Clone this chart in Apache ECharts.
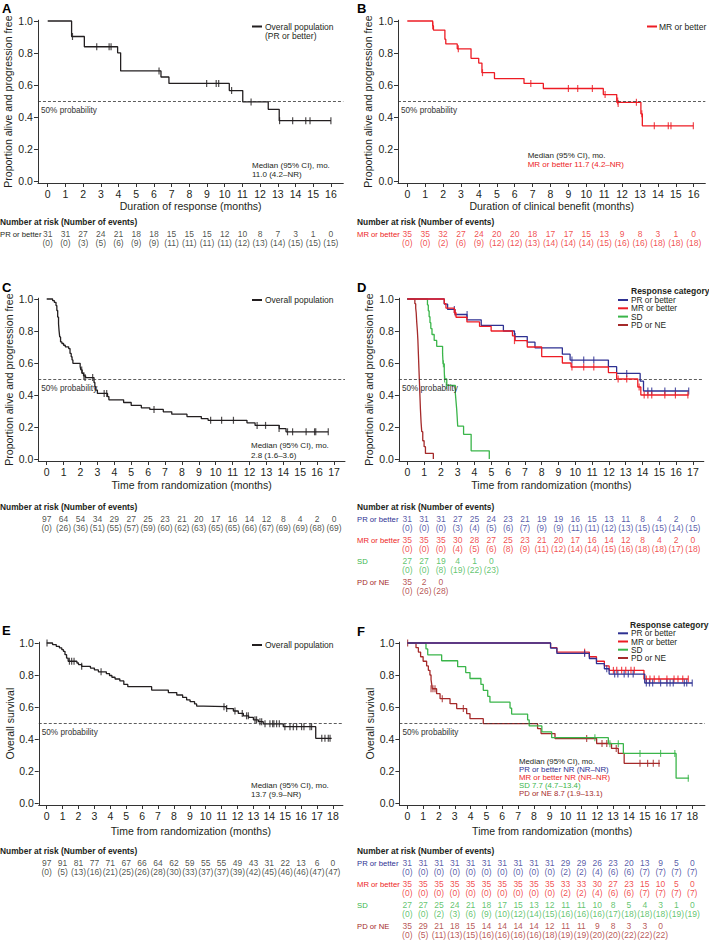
<!DOCTYPE html>
<html><head><meta charset="utf-8">
<script src="https://cdn.jsdelivr.net/npm/echarts@6/dist/echarts.min.js"></script>
<style>html,body{margin:0;padding:0;background:#fff}#c{width:709px;height:944px}</style>
</head><body><div id="c"></div>
<script>
// ---------- tick labels ----------
const xTicks16 = [0,1,2,3,4,5,6,7,8,9,10,11,12,13,14,15,16];
const xTicks17 = [0,1,2,3,4,5,6,7,8,9,10,11,12,13,14,15,16,17];
const xTicks18 = [0,1,2,3,4,5,6,7,8,9,10,11,12,13,14,15,16,17,18];
const yTicks = [0,0.2,0.4,0.6,0.8,1.0];

// ---------- Panel A ----------
const A_curve = [[0,1],[1.35,0.903],[2.07,0.839],[3.95,0.801],[4.12,0.688],[6.4,0.65],[6.85,0.61],[10.26,0.565],[11.02,0.494],[12.46,0.448],[13.08,0.377],[16.0,0.377]];
const A_cens = [[1.4,0.903],[2.77,0.839],[3.47,0.839],[3.58,0.839],[6.29,0.688],[8.98,0.61],[9.52,0.61],[9.66,0.61],[10.39,0.565],[11.49,0.494],[13.1,0.377],[13.84,0.377],[14.58,0.377],[14.82,0.377],[16.0,0.377]];
const A_risk_n = [31,31,27,24,21,18,18,15,15,15,12,10,8,7,3,1,0];
const A_risk_e = [0,0,3,5,6,9,9,11,11,11,11,12,13,14,15,15,15];

// ---------- Panel B ----------
const B_curve = [[0,1],[1.42,0.971],[1.46,0.943],[2.1,0.886],[2.15,0.857],[2.79,0.826],[3.56,0.767],[3.99,0.737],[4.17,0.677],[4.87,0.64],[6.52,0.61],[7.6,0.578],[10.95,0.54],[11.7,0.492],[13.05,0.42],[13.13,0.345],[15.98,0.345]];
const B_cens = [[1.42,0.971],[2.85,0.826],[4.2,0.677],[6.9,0.61],[9.0,0.578],[9.52,0.578],[10.34,0.578],[11.05,0.54],[11.75,0.5],[11.78,0.485],[12.8,0.492],[13.1,0.42],[13.8,0.345],[14.58,0.345],[14.73,0.345],[15.98,0.345]];
const B_risk_n = [35,35,32,27,24,20,20,18,17,17,15,13,9,8,3,1,0];
const B_risk_e = [0,0,2,6,9,12,12,13,14,14,14,15,16,16,18,18,18];

// ---------- Panel C ----------
const C_curve = [[0,1],[0.35,0.99],[0.45,0.979],[0.55,0.959],[0.6,0.928],[0.65,0.887],[0.7,0.845],[0.73,0.804],[0.77,0.763],[0.82,0.732],[0.9,0.722],[1.0,0.711],[1.1,0.701],[1.3,0.69],[1.38,0.66],[1.45,0.639],[1.5,0.619],[1.55,0.598],[1.98,0.577],[2.02,0.557],[2.1,0.536],[2.18,0.52],[2.3,0.509],[2.8,0.478],[2.85,0.452],[2.9,0.431],[3.0,0.41],[3.6,0.39],[3.68,0.37],[4.55,0.353],[5.0,0.335],[5.6,0.32],[6.1,0.31],[6.9,0.295],[7.4,0.28],[8.3,0.265],[9.15,0.252],[9.55,0.242],[11.85,0.226],[12.33,0.21],[13.76,0.19],[14.16,0.17],[16.66,0.17]];
const C_cens = [[2.07,0.557],[2.2,0.52],[2.27,0.509],[2.72,0.509],[3.4,0.41],[3.55,0.41],[6.35,0.31],[9.7,0.242],[10.35,0.242],[11.05,0.242],[12.45,0.21],[12.95,0.21],[13.75,0.19],[14.25,0.17],[14.55,0.17],[15.35,0.17],[15.85,0.17],[15.92,0.17],[16.66,0.17]];
const C_risk_n = [97,64,54,34,29,27,25,23,21,20,17,16,14,12,8,4,2,0];
const C_risk_e = [0,26,36,51,55,57,59,60,62,63,65,65,66,67,69,69,68,69];

// ---------- Panel D ----------
const D_PR_curve = [[0,1],[2.2,0.968],[2.4,0.935],[2.84,0.903],[3.55,0.87],[4.4,0.835],[5.72,0.80],[6.38,0.765],[7.14,0.73],[7.6,0.695],[9.23,0.655],[9.69,0.618],[11.97,0.577],[12.46,0.535],[13.86,0.487],[14.06,0.425],[16.75,0.425]];
const D_PR_cens = [[2.8,0.935],[3.56,0.903],[6.42,0.765],[9.8,0.618],[10.5,0.618],[11.1,0.618],[13.06,0.535],[14.32,0.425],[14.55,0.425],[15.33,0.425],[15.96,0.425],[16.75,0.425]];
const D_MR_curve = [[0,1],[2.2,0.971],[2.3,0.943],[2.8,0.914],[2.9,0.886],[3.55,0.857],[4.3,0.829],[4.99,0.80],[6.26,0.77],[6.4,0.74],[7.14,0.70],[8.0,0.64],[9.23,0.60],[9.75,0.575],[11.97,0.54],[12.46,0.50],[13.72,0.45],[13.9,0.40],[16.75,0.40]];
const D_MR_cens = [[2.85,0.914],[6.38,0.74],[9.8,0.575],[10.5,0.575],[11.1,0.575],[12.55,0.50],[13.06,0.50],[13.8,0.45],[14.1,0.40],[14.32,0.40],[14.55,0.40],[15.33,0.40],[15.96,0.40],[16.7,0.40]];
const D_SD_curve = [[0,1],[1.2,0.963],[1.25,0.926],[1.3,0.889],[1.35,0.852],[1.4,0.815],[1.47,0.778],[1.6,0.741],[1.75,0.704],[2.1,0.66],[2.13,0.595],[2.2,0.55],[2.22,0.50],[2.35,0.46],[2.86,0.41],[2.9,0.36],[2.94,0.31],[2.97,0.26],[3.0,0.205],[3.35,0.154],[3.8,0.051],[4.88,0]];
const D_SD_cens = [[2.15,0.595],[2.22,0.50],[2.32,0.46]];
const D_PD_curve = [[0,1],[0.45,0.971],[0.5,0.943],[0.53,0.914],[0.56,0.857],[0.6,0.8],[0.63,0.743],[0.66,0.657],[0.69,0.571],[0.72,0.486],[0.75,0.4],[0.78,0.314],[0.82,0.229],[0.86,0.171],[0.92,0.114],[1.0,0.077],[1.08,0.035],[1.55,0]];
const D_PD_cens = [];
const D_PR_risk_n = [31,31,31,27,25,24,23,21,19,19,16,15,13,11,8,4,2,0];
const D_PR_risk_e = [0,0,0,3,4,5,6,7,9,9,11,11,12,13,15,15,14,15];
const D_MR_risk_n = [35,35,35,30,28,27,25,23,21,20,17,16,14,12,8,4,2,0];
const D_MR_risk_e = [0,0,0,4,5,6,8,9,11,12,14,14,15,16,18,18,17,18];
const D_SD_risk_n = [27,27,19,4,1,0];
const D_SD_risk_e = [0,0,8,19,22,23];
const D_PD_risk_n = [35,2,0];
const D_PD_risk_e = [0,26,28];

// ---------- Panel E ----------
const E_curve = [[0,1],[0.37,0.99],[0.6,0.979],[0.8,0.969],[0.95,0.958],[1.05,0.948],[1.15,0.927],[1.25,0.906],[1.35,0.886],[1.9,0.875],[2.0,0.865],[2.2,0.854],[2.75,0.843],[3.0,0.832],[3.25,0.82],[3.75,0.809],[3.95,0.797],[4.1,0.786],[4.3,0.775],[4.6,0.763],[4.85,0.741],[5.1,0.727],[6.6,0.706],[7.65,0.69],[8.18,0.675],[8.55,0.66],[8.8,0.644],[9.02,0.633],[9.3,0.619],[9.43,0.606],[9.85,0.602],[11.3,0.59],[11.74,0.575],[12.05,0.56],[12.37,0.545],[12.7,0.535],[13.0,0.52],[13.31,0.508],[13.62,0.495],[14.88,0.477],[16.92,0.404],[17.92,0.404]];
const E_cens = [[0.02,1.0],[1.43,0.886],[1.57,0.886],[1.72,0.886],[2.2,0.854],[3.42,0.82],[11.15,0.602],[11.32,0.59],[11.84,0.575],[12.3,0.56],[12.57,0.545],[12.68,0.545],[13.1,0.52],[13.2,0.52],[13.41,0.508],[13.52,0.508],[13.73,0.495],[14.04,0.495],[14.21,0.495],[14.29,0.495],[14.46,0.495],[14.63,0.495],[14.98,0.477],[15.3,0.477],[15.51,0.477],[15.72,0.477],[16.03,0.477],[16.18,0.477],[16.56,0.477],[16.66,0.477],[17.3,0.404],[17.5,0.404],[17.71,0.404],[17.82,0.404]];
const E_risk_n = [97,91,81,77,71,67,66,64,62,59,55,55,49,43,31,22,13,6,0];
const E_risk_e = [0,5,13,16,21,25,26,28,30,33,37,37,39,42,45,46,46,47,47];

// ---------- Panel F ----------
const F_PR_curve = [[0,1],[9.05,0.968],[9.45,0.935],[11.5,0.903],[11.95,0.871],[12.45,0.839],[12.75,0.806],[15.0,0.75],[18.0,0.75]];
const F_PR_cens = [[11.2,0.935],[12.6,0.839],[13.1,0.806],[13.3,0.806],[13.7,0.806],[13.96,0.806],[14.27,0.806],[15.1,0.75],[15.3,0.75],[15.5,0.75],[16.0,0.75],[16.4,0.75],[16.6,0.75],[16.8,0.75],[17.5,0.75],[17.65,0.75],[18.0,0.75]];
const F_MR_curve = [[0,1],[9.05,0.971],[9.45,0.943],[11.5,0.914],[11.95,0.886],[12.45,0.857],[12.75,0.829],[14.95,0.775],[17.75,0.775]];
const F_MR_cens = [[11.2,0.943],[13.02,0.829],[13.23,0.829],[13.54,0.829],[13.8,0.829],[14.13,0.829],[14.34,0.829],[15.1,0.775],[15.33,0.775],[15.6,0.775],[15.9,0.775],[16.4,0.775],[16.85,0.775],[17.1,0.775],[17.4,0.775],[17.75,0.775]];
const F_SD_curve = [[0,1],[1.18,0.963],[1.29,0.926],[2.17,0.889],[3.18,0.852],[3.69,0.815],[3.96,0.778],[4.65,0.741],[4.8,0.704],[5.08,0.667],[5.22,0.63],[6.49,0.593],[6.59,0.556],[7.6,0.519],[7.7,0.482],[8.5,0.445],[9.12,0.408],[12.7,0.371],[13.65,0.31],[16.98,0.155],[17.8,0.155]];
const F_SD_cens = [[11.85,0.408],[12.8,0.371],[13.33,0.371],[14.7,0.31],[16.0,0.31],[16.9,0.31],[17.75,0.155]];
const F_PD_curve = [[0,1],[0.55,0.971],[0.7,0.943],[0.84,0.914],[1.0,0.886],[1.22,0.857],[1.33,0.829],[1.43,0.8],[1.5,0.771],[1.54,0.743],[1.58,0.714],[1.85,0.683],[2.07,0.652],[2.7,0.621],[3.12,0.59],[3.75,0.558],[3.96,0.527],[4.8,0.496],[8.23,0.465],[8.45,0.434],[9.33,0.403],[11.96,0.372],[12.9,0.341],[13.33,0.31],[13.7,0.248],[15.96,0.248]];
const F_PD_cens = [[0.02,1.0],[1.5,0.714],[1.62,0.714],[1.75,0.714],[2.21,0.652],[3.54,0.59],[11.33,0.403],[12.3,0.372],[12.6,0.372],[13.2,0.341],[14.7,0.248],[15.18,0.248],[15.54,0.248],[15.9,0.248]];
const F_PR_risk_n = [31,31,31,31,31,31,31,31,31,31,29,29,26,23,20,13,9,5,0];
const F_PR_risk_e = [0,0,0,0,0,0,0,0,0,0,2,2,4,6,6,7,7,7,7];
const F_MR_risk_n = [35,35,35,35,35,35,35,35,35,35,33,33,30,27,23,15,10,5,0];
const F_MR_risk_e = [0,0,0,0,0,0,0,0,0,0,2,2,4,6,6,7,7,7,7];
const F_SD_risk_n = [27,27,25,24,21,18,17,15,13,12,11,11,10,8,5,4,3,1,0];
const F_SD_risk_e = [0,0,2,3,6,9,10,12,14,15,16,16,16,17,18,18,18,19,19];
const F_PD_risk_n = [35,29,21,18,15,14,14,14,14,12,11,11,9,8,3,3,0];
const F_PD_risk_e = [0,5,11,13,15,16,16,16,16,18,19,19,20,20,22,22,22];

// ---------- styling ----------
const BLACK = '#231f20', PR = '#2e3192', MR = '#ed1c24', SD = '#3ab54a', PD = '#a52a2a';
const TXT = '#231f20', AX = '#333333';
const FONT = '"Liberation Sans", Arial, Helvetica, sans-serif';
const NFONT = '"Liberation Sans Narrow", "Arial Narrow", "Liberation Sans", sans-serif';
const YMIN = -0.0125, YMAX = 1.005, PPY = 160;

const panels = [
  {px:0, px0:47.7, ppu:17.7, xmin:-0.55, xmax:16.7, py0:181, ticks:xTicks16, xname:'Duration of response (months)', xgap:17, yname:'Proportion alive and progression free', ygap:24,
   curves:[{name:'Overall population', color:BLACK, curve:A_curve, cens:A_cens}],
   tableY:234, rows:[{label:'PR or better', color:BLACK, n:A_risk_n, e:A_risk_e}]},
  {px:357, px0:407.3, ppu:17.9, xmin:-0.52, xmax:16.65, py0:181, ticks:xTicks16, xname:'Duration of clinical benefit (months)', xgap:17, yname:'Proportion alive and progression free', ygap:24,
   curves:[{name:'MR or better', color:MR, curve:B_curve, cens:B_cens}],
   tableY:234, rows:[{label:'MR or better', color:MR, n:B_risk_n, e:B_risk_e}]},
  {px:0, px0:46.7, ppu:16.9, xmin:-0.5, xmax:17.65, py0:459, ticks:xTicks17, xname:'Time from randomization (months)', xgap:18, yname:'Proportion alive and progression free', ygap:24,
   curves:[{name:'Overall population', color:BLACK, curve:C_curve, cens:C_cens}],
   tableY:519, rows:[{label:'', color:BLACK, n:C_risk_n, e:C_risk_e}]},
  {px:357, px0:407.3, ppu:16.8, xmin:-0.5, xmax:17.65, py0:459, ticks:xTicks17, xname:'Time from randomization (months)', xgap:18, yname:'Proportion alive and progression free', ygap:24,
   curves:[{name:'PD or NE', color:PD, curve:D_PD_curve, cens:D_PD_cens},{name:'SD', color:SD, curve:D_SD_curve, cens:D_SD_cens},{name:'PR or better', color:PR, curve:D_PR_curve, cens:D_PR_cens},{name:'MR or better', color:MR, curve:D_MR_curve, cens:D_MR_cens}],
   tableY:519, rows:[{label:'PR or better', color:PR, n:D_PR_risk_n, e:D_PR_risk_e},{label:'MR or better', color:MR, n:D_MR_risk_n, e:D_MR_risk_e},{label:'SD', color:SD, n:D_SD_risk_n, e:D_SD_risk_e},{label:'PD or NE', color:PD, n:D_PD_risk_n, e:D_PD_risk_e}]},
  {px:0, px0:46.7, ppu:15.9, xmin:-0.5, xmax:18.63, py0:803, ticks:xTicks18, xname:'Time from randomization (months)', xgap:20, yname:'Overall survival', ygap:20,
   curves:[{name:'Overall population', color:BLACK, curve:E_curve, cens:E_cens}],
   tableY:863, rows:[{label:'', color:BLACK, n:E_risk_n, e:E_risk_e}]},
  {px:357, px0:407.3, ppu:15.83, xmin:-0.5, xmax:18.8, py0:803, ticks:xTicks18, xname:'Time from randomization (months)', xgap:20, yname:'Overall survival', ygap:20,
   curves:[{name:'PD or NE', color:PD, curve:F_PD_curve, cens:F_PD_cens},{name:'SD', color:SD, curve:F_SD_curve, cens:F_SD_cens},{name:'MR or better', color:MR, curve:F_MR_curve, cens:F_MR_cens},{name:'PR or better', color:PR, curve:F_PR_curve, cens:F_PR_cens}],
   tableY:863, rows:[{label:'PR or better', color:PR, n:F_PR_risk_n, e:F_PR_risk_e},{label:'MR or better', color:MR, n:F_MR_risk_n, e:F_MR_risk_e},{label:'SD', color:SD, n:F_SD_risk_n, e:F_SD_risk_e},{label:'PD or NE', color:PD, n:F_PD_risk_n, e:F_PD_risk_e}]}
];

const grids = [], xAxes = [], yAxes = [], series = [];
panels.forEach(p => {
  const left = p.px0 + p.xmin * p.ppu, width = (p.xmax - p.xmin) * p.ppu;
  const top = p.py0 - YMAX * PPY, height = (YMAX - YMIN) * PPY;
  const gi = grids.length;
  grids.push({left, top, width, height, outerBoundsMode:'none', containLabel:false});
  xAxes.push({gridIndex:gi, type:'value', min:p.xmin, max:p.xmax,
    name:p.xname, nameLocation:'middle', nameGap:p.xgap,
    nameTextStyle:{fontSize:10.5, color:TXT, fontFamily:FONT},
    axisLine:{show:true, onZero:false, lineStyle:{color:AX, width:1}},
    axisTick:{show:true, length:4, customValues:p.ticks, lineStyle:{color:AX, width:1}},
    axisLabel:{customValues:p.ticks, margin:5, fontSize:10.5, color:TXT, fontFamily:FONT},
    splitLine:{show:false}});
  yAxes.push({gridIndex:gi, type:'value', min:YMIN, max:YMAX,
    name:p.yname, nameLocation:'middle', nameGap:p.ygap,
    nameTextStyle:{fontSize:10.5, color:TXT, fontFamily:FONT},
    axisLine:{show:true, onZero:false, lineStyle:{color:AX, width:1}},
    axisTick:{show:true, length:4, customValues:yTicks, lineStyle:{color:AX, width:1}},
    axisLabel:{customValues:yTicks, margin:5, fontSize:10.5, color:TXT, fontFamily:FONT, formatter:v => v.toFixed(1)},
    splitLine:{show:false}});
  p.curves.forEach((c, ci) => {
    const s = {type:'line', name:c.name, xAxisIndex:gi, yAxisIndex:gi, data:c.curve, step:'end', symbol:'none',
      lineStyle:{color:c.color, width:1.3}, itemStyle:{color:c.color}, z:3 + ci, silent:true, animation:false};
    if (ci === 0) {
      s.markLine = {silent:true, symbol:['none','none'], animation:false,
        lineStyle:{color:'#333', type:[3,2], width:0.8},
        label:{show:true, position:'insideStartBottom', formatter:'50% probability', fontSize:8.2, color:'#333', fontFamily:FONT, distance:[3,5]},
        data:[{yAxis:0.5}]};
    }
    series.push(s);
    series.push({type:'scatter', xAxisIndex:gi, yAxisIndex:gi, data:c.cens, symbol:'rect', symbolSize:[1.2,7],
      itemStyle:{color:c.color}, z:3 + ci, silent:true, animation:false});
  });
  // number-at-risk table
  const ti = grids.length;
  const rowColors = p.rows.map(r => r.color);
  grids.push({left, width, top:p.tableY - 10.5, height:p.rows.length * 21, outerBoundsMode:'none', containLabel:false});
  xAxes.push({gridIndex:ti, type:'value', min:p.xmin, max:p.xmax, show:false});
  yAxes.push({gridIndex:ti, type:'category', inverse:true,
    data:p.rows.map(r => r.label),
    axisLine:{show:false}, axisTick:{show:false}, splitLine:{show:false},
    axisLabel:{align:'left', margin:left - p.px, fontSize:7.7, fontFamily:NFONT, color:(v, i) => rowColors[i]}});
  p.rows.forEach((r, ri) => {
    series.push({type:'scatter', xAxisIndex:ti, yAxisIndex:ti, symbolSize:1, silent:true, animation:false,
      itemStyle:{color:'rgba(0,0,0,0)'},
      data:r.n.map((v, i) => [p.ticks[i], ri, v, r.e[i]]),
      label:{show:true, position:'inside', formatter:pp => pp.data[2] + '\n(' + pp.data[3] + ')',
        color:r.color, fontSize:8.5, lineHeight:9, fontFamily:NFONT, offset:[0,4.5]}});
  });
});

// ---------- text annotations ----------
const graphic = [];
function txt(text, x, y, o) {
  o = o || {};
  graphic.push({type:'text', silent:true, style:{text, x, y, fill:o.color || TXT, fontSize:o.size || 8,
    fontFamily:o.family || FONT, fontWeight:o.weight || 'normal', align:'left', verticalAlign:'middle'}});
}
function seg(x1, x2, y, color) {
  graphic.push({type:'line', silent:true, shape:{x1, y1:y, x2, y2:y}, style:{stroke:color, lineWidth:2}});
}
// panel letters
[['A',2,8],['B',357,8],['C',2,287],['D',357,287],['E',2,630],['F',357,631]].forEach(a => txt(a[0], a[1], a[2], {size:13, weight:'bold', color:'#000'}));
// legends
seg(252, 262, 26.5, BLACK); txt('Overall population', 265, 26.5, {size:8.5}); txt('(PR or better)', 265, 35.5, {size:8.5});
seg(647, 657, 26.5, MR); txt('MR or better', 659, 26.5, {size:8.5});
seg(252, 262, 300, BLACK); txt('Overall population', 265, 299.5, {size:8.5});
txt('Response category', 631, 291, {size:8.5, weight:'bold'});
[['PR or better',PR,300],['MR or better',MR,308.3],['SD',SD,316.6],['PD or NE',PD,325]].forEach(l => {seg(618, 628, l[2], l[1]); txt(l[0], 631, l[2], {size:8.3});});
seg(252, 262, 645, BLACK); txt('Overall population', 265, 645, {size:8.5});
txt('Response category', 630, 625, {size:8.5, weight:'bold'});
[['PR or better',PR,633.3],['MR or better',MR,641.5],['SD',SD,649.7],['PD or NE',PD,658]].forEach(l => {seg(618, 628, l[2], l[1]); txt(l[0], 631, l[2], {size:8.3});});
// medians
txt('Median (95% CI), mo.', 252, 165); txt('11.0 (4.2\u2013NR)', 252, 174);
txt('Median (95% CI), mo.', 527.7, 155); txt('MR or better 11.7 (4.2\u2013NR)', 527.7, 164.3, {color:MR});
txt('Median (95% CI), mo.', 251, 445.7); txt('2.8 (1.6\u20133.6)', 251, 455);
txt('Median (95% CI), mo.', 251, 785.7); txt('13.7 (9.9\u2013NR)', 251, 794);
txt('Median (95% CI), mo.', 519, 761, {size:7.8});
txt('PR or better NR (NR\u2013NR)', 519, 769.2, {color:PR, size:7.8});
txt('MR or better NR (NR\u2013NR)', 519, 777.4, {color:MR, size:7.8});
txt('SD 7.7 (4.7\u201313.4)', 519, 785.6, {color:SD, size:7.8});
txt('PD or NE 8.7 (1.9\u201313.1)', 519, 793.8, {color:PD, size:7.8});
// risk table headers
[[0,222],[357,222],[0,507],[357,507],[0,851],[357,851]].forEach(h => txt('Number at risk (Number of events)', h[0], h[1], {size:8.4, weight:'bold', family:NFONT}));

const chart = echarts.init(document.getElementById('c'), null, {renderer:'svg'});
chart.setOption({animation:false, backgroundColor:'#ffffff', textStyle:{fontFamily:FONT},
  grid:grids, xAxis:xAxes, yAxis:yAxes, series, graphic});
</script></body></html>
